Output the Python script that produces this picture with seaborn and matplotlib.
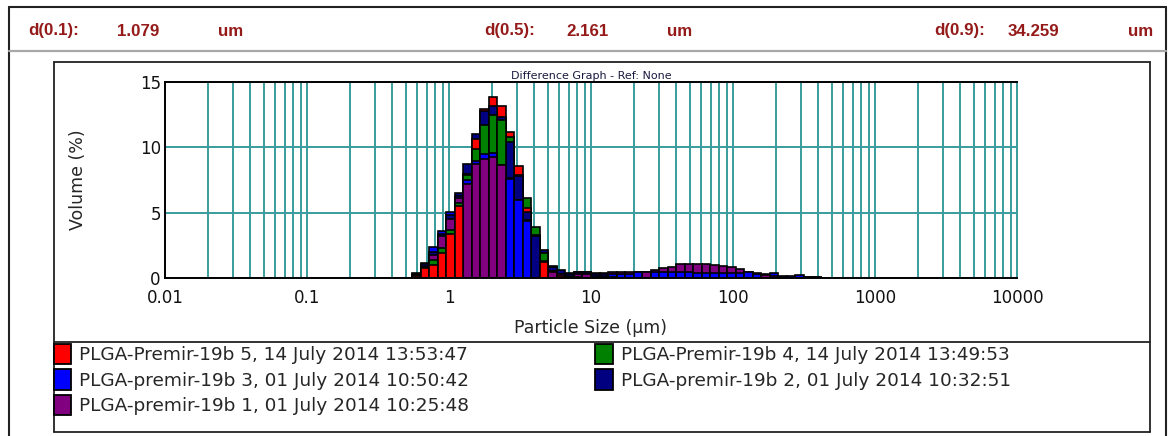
import numpy as np
import pandas as pd
import matplotlib
matplotlib.use("Agg")
import matplotlib.pyplot as plt
from matplotlib.patches import Patch
from matplotlib.lines import Line2D
from matplotlib.ticker import LogLocator, NullFormatter
import seaborn as sns

# size classes: 0.06 decade wide, 0.01 .. 10000 um; only classes 29..76 carry volume
first_class = 29
n_classes = 48

red = [0.15, 0.76, 1.0, 1.95, 3.35, 5.5, 7.95, 10.65, 12.95, 13.85, 13.2, 11.2,
       8.55, 5.4, 3.3, 1.27, 0.52, 0.2, 0.1, 0.05, 0.05] + [0] * 27
green = [0.2, 0.85, 1.4, 2.35, 3.7, 5.75, 7.9, 9.9, 11.7, 12.5, 12.1, 10.8,
         7.9, 6.1, 3.95, 1.9, 0.92, 0.3, 0.15, 0.1, 0.05] + [0] * 27
blue = [0.3, 1.1, 2.4, 3.6, 5.1, 6.3, 7.5, 9.0, 9.5, 9.55, 8.65, 7.6,
        5.95, 4.4, 3.22, 1.95, 0.55, 0.35, 0.3, 0.5, 0.5, 0.3, 0.3, 0.3,
        0.3, 0.35, 0.45, 0.5, 0.5, 0.46, 0.46, 0.46, 0.46, 0.42, 0.42, 0.42,
        0.42, 0.4, 0.38, 0.45, 0.3, 0.28, 0.38, 0.2, 0.2, 0.22, 0.1, 0.1]
navy = [0.38, 1.2, 2.0, 3.4, 4.85, 6.5, 8.7, 11.0, 12.75, 13.2, 12.3, 10.4,
        7.85, 5.1, 3.2, 2.2, 0.85, 0.65, 0.38, 0.45, 0.45, 0.2, 0.15, 0.1,
        0.05, 0.05] + [0] * 15 + [0.3, 0, 0, 0, 0, 0.13, 0.13]
purple = [0.25, 0.95, 1.8, 3.2, 4.55, 6.1, 7.2, 8.7, 9.15, 9.3, 8.65, 7.65,
          6.0, 4.45, 3.22, 1.3, 0.5, 0.3, 0.33, 0.3, 0.35, 0.43, 0.43, 0.48,
          0.48, 0.48, 0.47, 0.45, 0.65, 0.78, 0.9, 1.08, 1.1, 1.1, 1.08, 1.0,
          0.95, 0.84, 0.7, 0.5, 0.38, 0.25, 0.2, 0.1, 0.05, 0, 0, 0]

names = ["PLGA-Premir-19b 5, 14 July 2014 13:53:47",
         "PLGA-Premir-19b 4, 14 July 2014 13:49:53",
         "PLGA-premir-19b 3, 01 July 2014 10:50:42",
         "PLGA-premir-19b 2, 01 July 2014 10:32:51",
         "PLGA-premir-19b 1, 01 July 2014 10:25:48"]
series = [red, green, blue, navy, purple]
colors = ["#ff0000", "#008000", "#0000ff", "#000080", "#800080"]
palette = dict(zip(names, colors))

header = [("d(0.1):", "1.079"), ("d(0.5):", "2.161"), ("d(0.9):", "34.259")]
tick_vals = [0.01, 0.1, 1, 10, 100, 1000, 10000]
tick_labels = ["0.01", "0.1", "1", "10", "100", "1000", "10000"]

# class edges in log10 units
log_edges = np.round(-2 + 0.06 * np.arange(first_class, first_class + n_classes + 1), 4)
centers = 10 ** (log_edges[:-1] + 0.03)

# overlay: at each class the tallest bar is drawn first, shorter ones in front
vals = np.array(series)
order = np.argsort(-vals, axis=0, kind="stable")
layers = []
for r in range(len(series)):
    idx = order[r]
    layers.append(pd.DataFrame({
        "size": centers,
        "volume": vals[idx, np.arange(n_classes)],
        "sample": [names[i] for i in idx],
    }))

W, H = 1174, 436
fig = plt.figure(figsize=(W / 100, H / 100), dpi=100)
sns.set_style("white")
plt.rcParams["font.family"] = ["DejaVu Sans"]


def fx(x):
    return x / W


def fy(y):
    return 1 - y / H


def line(x0, y0, x1, y1, color="black", lw=1.0):
    fig.add_artist(Line2D([fx(x0), fx(x1)], [fy(y0), fy(y1)],
                          transform=fig.transFigure, color=color, lw=lw))


# frames
line(9, 7.5, 1166, 7.5, "#222222", 1.5)
line(9, 7.5, 9, 436, "#222222", 1.5)
line(1166, 7.5, 1166, 436, "#222222", 1.5)
line(9, 51, 1166, 51, "#a8a8a8", 1.6)
line(53.5, 62, 1150, 62, "#222222", 1.3)
line(53.5, 62, 53.5, 432, "#222222", 1.3)
line(1150, 62, 1150, 432, "#222222", 1.3)
line(53.5, 342, 1150, 342, "#222222", 1.3)
line(53.5, 432, 1150, 432, "#222222", 1.3)

# header statistics
hx = [(28, 117, 218), (484, 566, 667), (934, 1008, 1128)]
for (lab, val), (x1, x2, x3) in zip(header, hx):
    for txt, xx in [(lab, x1), (val, x2), ("um", x3)]:
        fig.text(fx(xx), fy(31), txt, color="#951b1b", fontsize=12.2,
                 fontweight="bold", family="Liberation Sans", va="center", ha="left")

ax = fig.add_axes([fx(165), fy(278.3), fx(1017) - fx(165), fy(82) - fy(278.3)])
for r, df in enumerate(layers):
    sns.histplot(data=df, x="size", weights="volume", hue="sample",
                 hue_order=names, palette=palette, bins=list(log_edges),
                 log_scale=True, multiple="layer", element="bars",
                 fill=True, alpha=1, edgecolor="black", linewidth=1.2,
                 legend=False, ax=ax)

teal = "#3a9c9c"
ax.set_xlim(0.01, 10000)
ax.set_ylim(0, 15)
ax.set_xticks(tick_vals)
ax.set_xticklabels(tick_labels)
ax.xaxis.set_minor_locator(LogLocator(base=10, subs=np.arange(2, 10), numticks=20))
ax.xaxis.set_minor_formatter(NullFormatter())
ax.set_yticks([0, 5, 10, 15])
ax.set_axisbelow(True)
ax.grid(True, which="both", axis="x", color=teal, lw=1.4)
ax.grid(True, which="major", axis="y", color=teal, lw=1.4)
ax.tick_params(axis="both", which="both", length=0, labelsize=12, colors="#111111")
ax.tick_params(axis="x", pad=8)
ax.tick_params(axis="y", pad=3)
for s in ["left", "bottom", "top"]:
    ax.spines[s].set_color("black")
    ax.spines[s].set_linewidth(1.4)
ax.spines["right"].set_color(teal)
ax.spines["right"].set_linewidth(1.4)
ax.set_xlabel("Particle Size (µm)", fontsize=12.5, labelpad=8)
ax.set_ylabel("Volume (%)", fontsize=12.5, labelpad=38)
ax.set_title("Difference Graph - Ref: None", fontsize=8, pad=2, color="#1a1a40")

# legend in two columns
handles = [Patch(facecolor=c, edgecolor="black", linewidth=1.3, label=n)
           for n, c in zip(names, colors)]
leg_kw = dict(loc="upper left", frameon=False, fontsize=13.3, handlelength=0.95,
              handleheight=1.3, handletextpad=0.45, labelspacing=0.28,
              borderaxespad=0, borderpad=0)
fig.legend(handles=[handles[0], handles[2], handles[4]],
           bbox_to_anchor=(fx(53.5), fy(344)), **leg_kw)
fig.legend(handles=[handles[1], handles[3]],
           bbox_to_anchor=(fx(595), fy(344)), **leg_kw)

fig.savefig("out.png", dpi=100)
